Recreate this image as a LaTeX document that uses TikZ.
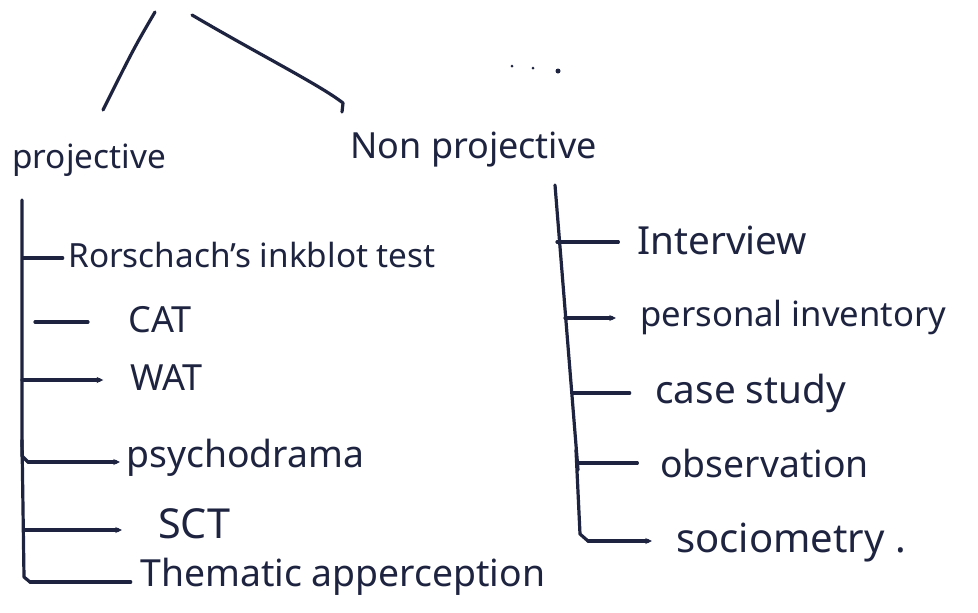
\documentclass[tikz,border=0pt]{standalone}
\usepackage{fontspec}
\setmainfont{Noto Sans}
\usetikzlibrary{arrows.meta}
\definecolor{inkc}{HTML}{1E2440}
\begin{document}
\begin{tikzpicture}[x=0.75pt,y=-0.75pt,
  ink/.style={draw=inkc, line width=2.4pt, line cap=round, line join=round},
  tipped/.style={ink, -{Stealth[length=5pt,width=4.5pt]}},
  lbl/.style={anchor=west, inner sep=0pt, text=inkc},
  fs/.style={font=\fontsize{#1}{#1}\selectfont}]
\fill[white] (0,0) rectangle (978,612);
\useasboundingbox (0,0) rectangle (978,612);

% top branches
\coordinate (t1) at (155,12);
\coordinate (t2) at (192,15);
\coordinate (e1) at (103,110);
\coordinate (e2) at (343,103);
\coordinate (e3) at (342,112);
\draw[ink] (t1) .. controls (134,48) .. (e1);
\draw[ink] (t2) .. controls (260,55) and (320,85) .. (e2) -- (e3);
\fill[inkc] (512,66) circle (1.5) (533,68) circle (1.5) (558,71) circle (2.5);

% headings
\node[lbl, fs=25] (proj) at (12,160) {projective};
\node[lbl, fs=27] (nonproj) at (350,150) {Non projective};

% left items
\node[lbl, fs=25] (ror) at (68,255) {Rorschach's inkblot test};
\node[lbl, fs=27] (cat) at (128,320) {CAT};
\node[lbl, fs=27] (wat) at (130,378) {WAT};
\node[lbl, fs=28] (psy) at (126,458) {psychodrama};
\node[lbl, fs=31] (sct) at (158,524) {SCT};
\node[lbl, fs=28] (tat) at (140,577) {Thematic apperception};

% left tree
\coordinate (la) at (22,200);
\coordinate (lb) at (22,456);
\coordinate (lc) at (28,462);
\coordinate (ld) at (22,440);
\coordinate (le) at (24,577);
\coordinate (lf) at (30,582);
\coordinate (rr) at (23,258);
\coordinate (rc) at (35,322);
\coordinate (rw) at (22,380);
\coordinate (rs) at (24,530);
\draw[ink] (la) -- (lb) -- (lc);
\draw[tipped, shorten >=4.5pt] (lc) -- (lc -| psy.west);
\draw[ink] (ld) -- (le) -- (lf);
\draw[ink, shorten >=7pt] (lf) -- (lf -| tat.west);
\draw[ink, shorten >=4pt] (rr) -- (rr -| ror.west);
\draw[ink, shorten >=30pt] (rc) -- (rc -| cat.west);
\draw[tipped, shorten >=20pt] (rw) -- (rw -| wat.west);
\draw[tipped, shorten >=27pt] (rs) -- (rs -| sct.west);

% right items
\node[lbl, fs=29] (int) at (637,240) {Interview};
\node[lbl, fs=26] (per) at (640,317) {personal inventory};
\node[lbl, fs=29] (cas) at (655,393) {case study};
\node[lbl, fs=28] (obs) at (660,463) {observation};
\node[lbl, fs=30] (soc) at (676,543) {sociometry .};

% right tree
\coordinate (ra) at (555,185);
\coordinate (rb) at (578,470);
\coordinate (rc2) at (576,450);
\coordinate (rd) at (580,534);
\coordinate (rf) at (588,541);
\coordinate (ri) at (557,242);
\coordinate (rp) at (565,318);
\coordinate (rcs) at (573,393);
\coordinate (ro) at (578,463);
\draw[ink] (ra) -- (rb);
\draw[ink] (rc2) -- (rd) -- (rf);
\draw[tipped, shorten >=18pt] (rf) -- (rf -| soc.west);
\draw[ink, shorten >=14pt] (ri) -- (ri -| int.west);
\draw[tipped, shorten >=18pt] (rp) -- (rp -| per.west);
\draw[ink, shorten >=19pt] (rcs) -- (rcs -| cas.west);
\draw[ink, shorten >=17pt] (ro) -- (ro -| obs.west);
\end{tikzpicture}
\end{document}
